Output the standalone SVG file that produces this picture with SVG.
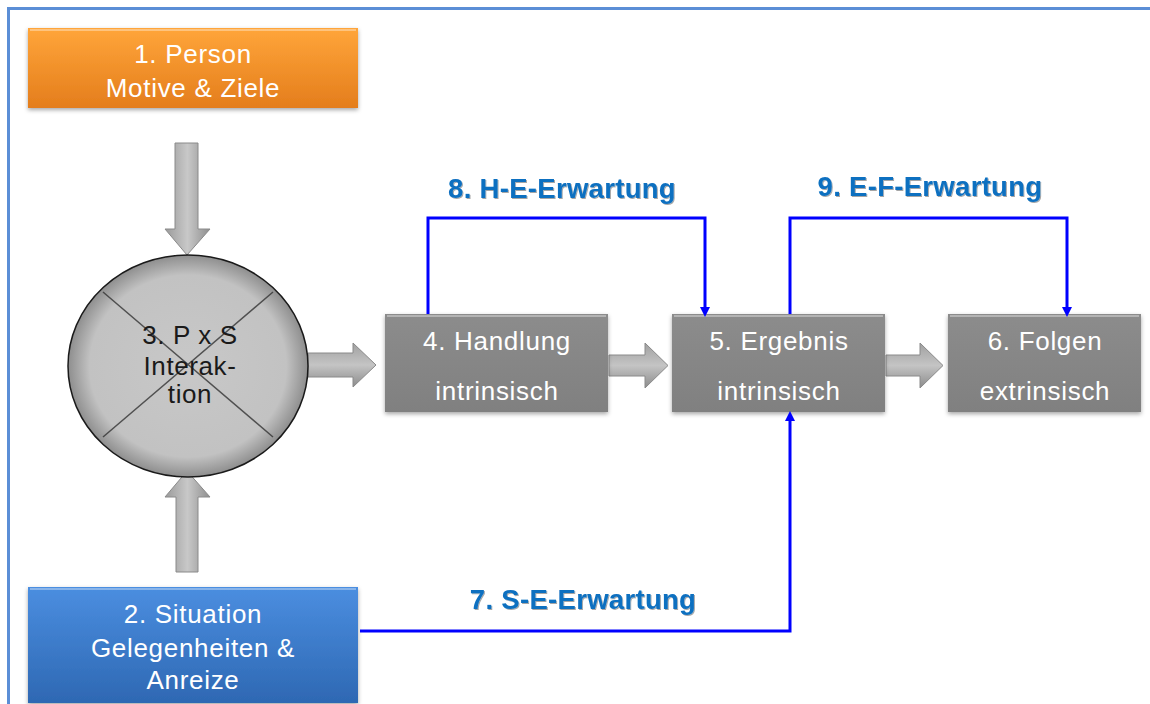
<svg xmlns="http://www.w3.org/2000/svg" width="1150" height="704" viewBox="0 0 1150 704">
<defs>
<linearGradient id="gOrange" x1="0" y1="0" x2="0" y2="1"><stop offset="0" stop-color="#ffa53a"/><stop offset="1" stop-color="#e47d1c"/></linearGradient>
<linearGradient id="gBlue" x1="0" y1="0" x2="0" y2="1"><stop offset="0" stop-color="#4b8ee0"/><stop offset="1" stop-color="#2e68b3"/></linearGradient>
<linearGradient id="gGray" x1="0" y1="0" x2="0" y2="1"><stop offset="0" stop-color="#8c8c8c"/><stop offset="1" stop-color="#808080"/></linearGradient>
<linearGradient id="gArrowV" x1="0" y1="0" x2="1" y2="0"><stop offset="0" stop-color="#9a9a9a"/><stop offset="0.5" stop-color="#c8c8c8"/><stop offset="1" stop-color="#8e8e8e"/></linearGradient>
<linearGradient id="gArrowH" x1="0" y1="0" x2="0" y2="1"><stop offset="0" stop-color="#a0a0a0"/><stop offset="0.5" stop-color="#c4c4c4"/><stop offset="1" stop-color="#8c8c8c"/></linearGradient>
<radialGradient id="gEll" cx="0.5" cy="0.5" r="0.5"><stop offset="0" stop-color="#c8c8c8"/><stop offset="0.82" stop-color="#c2c2c2"/><stop offset="1" stop-color="#8e8e8e"/></radialGradient>
<filter id="sh" x="-10%" y="-10%" width="120%" height="130%"><feDropShadow dx="0" dy="2" stdDeviation="2" flood-color="#000" flood-opacity="0.35"/></filter>
<filter id="tsh" x="-5%" y="-20%" width="110%" height="140%"><feDropShadow dx="1" dy="1" stdDeviation="0.6" flood-color="#000" flood-opacity="0.35"/></filter>
<marker id="ah" markerWidth="10" markerHeight="10" refX="5" refY="5" orient="auto" markerUnits="userSpaceOnUse"><path d="M0,0 L10,5 L0,10 z" fill="#0000ff"/></marker>
</defs>
<style>
.box-t{font-family:"Liberation Sans",Arial,sans-serif;font-size:26px;fill:#ffffff;text-anchor:middle;letter-spacing:0.7px}
.ell-t{font-family:"Liberation Sans",Arial,sans-serif;font-size:26px;fill:#1a1a1a;text-anchor:middle;letter-spacing:0.6px}
.lbl{font-family:"Liberation Sans",Arial,sans-serif;font-size:27.5px;font-weight:bold;fill:#0b6fc0;text-anchor:middle;letter-spacing:0.3px}
.conn{fill:none;stroke:#0000ff;stroke-width:3;marker-end:url(#ah)}
.blk{stroke:#8a8a8a;stroke-width:1}
.bevel{fill:none;stroke:#ffffff;stroke-opacity:0.35;stroke-width:2}
</style>
<rect width="1150" height="704" fill="#ffffff"/>
<path d="M8.5,704 V8.5 H1150" fill="none" stroke="#5b8ed6" stroke-width="3"/>

<g id="arrows-block">
<path class="blk" d="M175,143 H198 V229 H210 L187,255 L165,229 H175 Z" fill="url(#gArrowV)"/>
<path class="blk" d="M176,572 H198 V497 H210 L187,471 L165,497 H176 Z" fill="url(#gArrowV)"/>
<path class="blk" d="M308,353 H353 V343 L376,365 L353,387 V377 H308 Z" fill="url(#gArrowH)"/>
<path class="blk" d="M609,355 H645 V343 L668,365.5 L645,388 V376 H609 Z" fill="url(#gArrowH)"/>
<path class="blk" d="M886,355 H920 V343 L943,365.5 L920,388 V376 H886 Z" fill="url(#gArrowH)"/>
</g>

<g id="n1">
<rect x="28" y="28" width="330" height="80" fill="url(#gOrange)" filter="url(#sh)"/>
<path class="bevel" d="M30,30 H356"/>
<text class="box-t" x="193" y="63">1. Person</text>
<text class="box-t" x="193" y="97">Motive &amp; Ziele</text>
</g>

<g id="n2">
<rect x="28" y="587" width="330" height="116" fill="url(#gBlue)" filter="url(#sh)"/>
<path class="bevel" d="M30,589 H356"/>
<text class="box-t" x="193" y="623">2. Situation</text>
<text class="box-t" x="193" y="657">Gelegenheiten &amp;</text>
<text class="box-t" x="193" y="689">Anreize</text>
</g>

<g id="n3">
<ellipse cx="188" cy="366" rx="120" ry="111" fill="url(#gEll)" stroke="#1a1a1a" stroke-width="1.5"/>
<path d="M103,292 L273,437 M273,292 L103,437" stroke="#333" stroke-width="1.5" stroke-opacity="0.8"/>
<text class="ell-t" x="190" y="344">3. P x S</text>
<text class="ell-t" x="190" y="375">Interak-</text>
<text class="ell-t" x="190" y="403">tion</text>
</g>

<g id="n4">
<rect x="385" y="314" width="223" height="98" fill="url(#gGray)" filter="url(#sh)"/>
<path class="bevel" d="M387,316 H606"/>
<text class="box-t" x="497" y="350">4. Handlung</text>
<text class="box-t" x="497" y="400">intrinsisch</text>
</g>

<g id="n5">
<rect x="672" y="314" width="213" height="98" fill="url(#gGray)" filter="url(#sh)"/>
<path class="bevel" d="M674,316 H883"/>
<text class="box-t" x="779" y="350">5. Ergebnis</text>
<text class="box-t" x="779" y="400">intrinsisch</text>
</g>

<g id="n6">
<rect x="948" y="314" width="193" height="98" fill="url(#gGray)" filter="url(#sh)"/>
<path class="bevel" d="M950,316 H1139"/>
<text class="box-t" x="1045" y="350">6. Folgen</text>
<text class="box-t" x="1045" y="400">extrinsisch</text>
</g>

<g id="connectors">
<path class="conn" d="M428,314 V218 H705 V312"/>
<path class="conn" d="M790,314 V218 H1067 V312"/>
<path class="conn" d="M360,631 H790 V416"/>
</g>

<g id="labels">
<text class="lbl" x="562" y="198" filter="url(#tsh)">8. H-E-Erwartung</text>
<text class="lbl" x="930" y="196" filter="url(#tsh)">9. E-F-Erwartung</text>
<text class="lbl" x="583" y="609" filter="url(#tsh)">7. S-E-Erwartung</text>
</g>
</svg>
